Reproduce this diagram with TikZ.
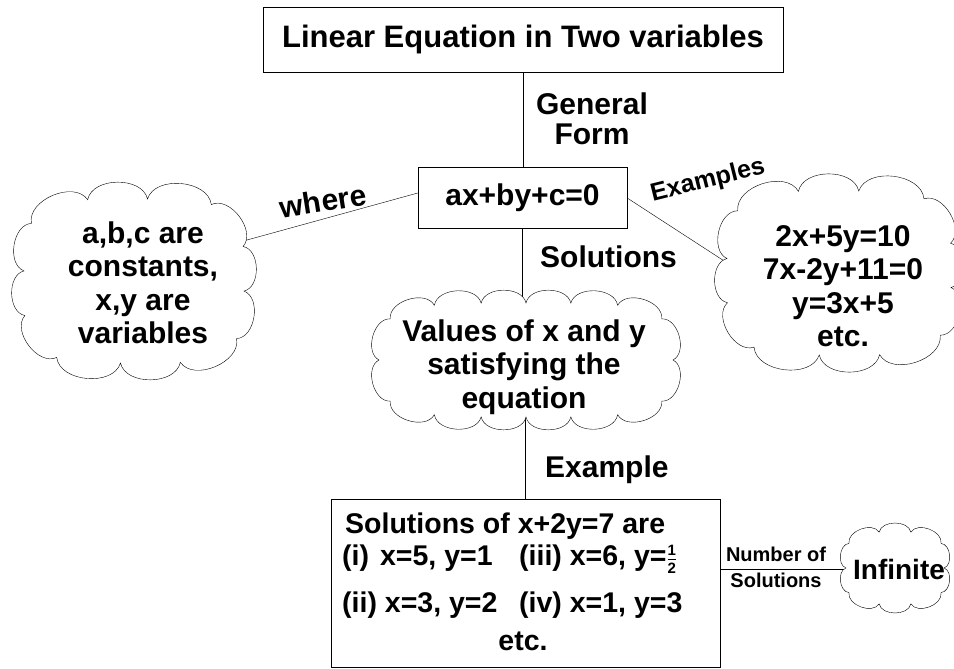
\documentclass[tikz,border=0pt]{standalone}
\usepackage{fontspec}
\setmainfont{Liberation Sans}
\newcommand{\fsz}[1]{\bfseries\fontsize{#1}{#1}\selectfont}
\pgfdeclarelayer{lines}
\pgfdeclarelayer{clouds}
\pgfsetlayers{lines,clouds,main}
\tikzset{declare function={
  sqr(\a)=(cos(\a)*cos(\a)*cos(\a)*cos(\a)+sin(\a)*sin(\a)*sin(\a)*sin(\a))^(-0.25);
  sqx(\a)=cos(\a)*sqr(\a);
  sqy(\a)=sin(\a)*sqr(\a);}}
% #1 cx, #2 cy, #3 rx, #4 ry, #5 start angle, #6 remaining angles
\newcommand{\puffcloud}[6]{%
  \draw[fill=white,line join=miter] ({#1+#3*sqx(#5)},{#2+#4*sqy(#5)})
    \foreach \a in {#6} { to[bend left=78] ({#1+#3*sqx(\a)},{#2+#4*sqy(\a)}) } -- cycle;}
\begin{document}
\begin{tikzpicture}[x=1pt,y=-1pt,line width=1.6pt,
  box/.style={draw,rectangle,inner sep=0pt,font=\fsz{30}},
  lbl/.style={font=\fsz{30},inner sep=0pt},
  cloudtxt/.style={align=center,inner sep=0pt,font=\bfseries\fontsize{30}{33.5}\selectfont},
  boxtxt/.style={anchor=base west,inner sep=0pt,font=\fsz{28.5}},
  small/.style={anchor=base,inner sep=0pt,font=\fsz{20}}]
\useasboundingbox (0,0) rectangle (954,669);
\begin{pgfonlayer}{lines}
\fill[white] (0,0) rectangle (954,669);
\end{pgfonlayer}

% boxes
\node[box,minimum width=520pt,minimum height=65pt,font=\fsz{31}] (title) at (523,39.5) {Linear Equation in Two variables};
\node[box,minimum width=209pt,minimum height=61pt] (eq) at (522.5,198) {ax+by+c=0};
\node[box,minimum width=389pt,minimum height=168pt] (bb) at (525.5,583) {};

% cloud texts (named nodes)
\node[cloudtxt] (lct) at (143,283) {a,b,c are\\constants,\\x,y are\\variables};
\node[cloudtxt] (rct) at (843,286) {2x+5y=10\\7x-2y+11=0\\y=3x+5\\etc.};
\node[cloudtxt] (mct) at (524,367) {Values of x and y\\satisfying the\\equation};
\node[lbl,font=\fsz{28}] (inft) at (899,569) {Infinite};

% cloud outlines
\begin{pgfonlayer}{clouds}
\puffcloud{134}{281}{110}{82}{-23}{7,37,67,97,127,157,187,217,247,277,307,337}
\puffcloud{839}{273}{112}{82}{10}{40,70,100,130,160,190,220,250,280,310,340,370}
\puffcloud{526}{360}{147}{57}{0}{38,57,73,90,107,123,142,180,218,237,253,270,287,303,322,360}
\puffcloud{895}{568}{49}{36}{0}{36,72,108,144,180,216,252,288,324,360}
\end{pgfonlayer}

% connectors
\begin{pgfonlayer}{lines}
\draw (title.south) -- (title.south |- eq.north);
\draw (eq.south) -- (eq.south |- mct.north);
\draw (bb.north |- mct.south) -- (bb.north);
\draw ([yshift=5pt]eq.west) -- (lct.25);
\draw (eq.east) -- (rct.west);
\draw (bb.east |- inft) -- (inft.west);
\end{pgfonlayer}

% connector labels
\node[lbl,align=center,font=\bfseries\fontsize{30}{30}\selectfont] (gf) at (592,119) {General\\Form};
\node[lbl,anchor=base west] (sol) at (540,267) {Solutions};
\node[lbl,anchor=base west] (exa) at (545,477) {Example};
\node[lbl,rotate=9] (wh) at (323,201) {where};
\node[lbl,rotate=14,font=\fsz{25}] (exs) at (708,181) {Examples};
\node[small] (nof) at (776,561) {Number of};
\node[small] (nos) at (776,587) {Solutions};

% bottom box text
\node[boxtxt] (b0) at (345,533) {Solutions of x+2y=7 are};
\node[boxtxt] (b1) at (342,565) {(i)\hspace{11pt}x=5, y=1};
\node[boxtxt] (b2) at (342,612) {(ii) x=3, y=2};
\node[boxtxt] (b3) at (519,565) {(iii) x=6, y=$\frac{\mbox{\fsz{15}1}}{\mbox{\fsz{15}2}}$};
\node[boxtxt] (b4) at (519,612) {(iv) x=1, y=3};
\node[boxtxt,anchor=base] (b5) at (523,650) {etc.};
\end{tikzpicture}
\end{document}
